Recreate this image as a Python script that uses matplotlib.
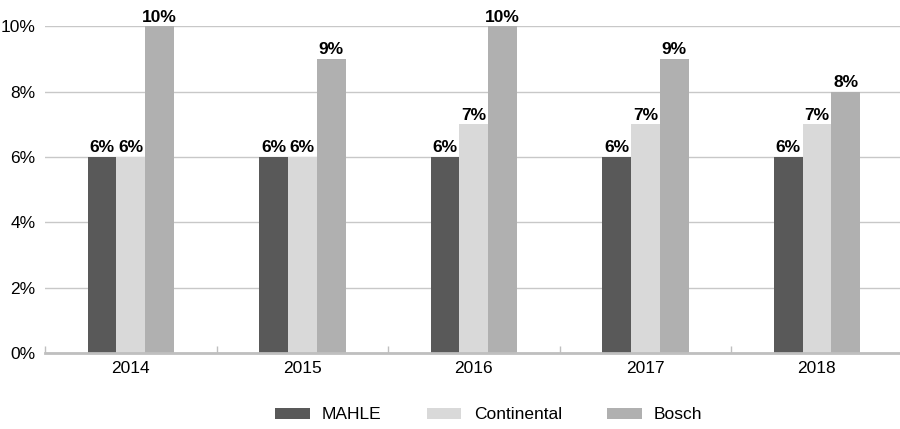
import matplotlib
matplotlib.use("Agg")
import matplotlib.pyplot as plt
from matplotlib.patches import Patch
import numpy as np

plt.rcParams['font.family'] = ['Liberation Sans', 'DejaVu Sans']

years = ["2014", "2015", "2016", "2017", "2018"]
series = ["MAHLE", "Continental", "Bosch"]
mahle = [6, 6, 6, 6, 6]
continental = [6, 6, 7, 7, 7]
bosch = [10, 9, 10, 9, 8]
colors = ["#595959", "#d9d9d9", "#b0b0b0"]
values = [mahle, continental, bosch]

fig = plt.figure(figsize=(9, 4.29), dpi=100)
ax = fig.add_axes([0.05, 0.177, 0.953, 0.762])

x = np.arange(len(years))
w = 0.168
for i, (vals, c) in enumerate(zip(values, colors)):
    pos = x + (i - 1) * w
    ax.bar(pos, vals, width=w, color=c, zorder=3, label=series[i])
    for p, v in zip(pos, vals):
        ax.text(p, v + 0.05, f"{v}%", ha="center", va="bottom",
                fontsize=12.5, fontweight="bold", color="#000000", zorder=4)

ax.set_xlim(-0.5, len(years) - 0.5)
ax.set_ylim(0, 10)
ax.set_yticks(np.arange(0, 11, 2))
ax.set_yticklabels([f"{v}%" for v in range(0, 11, 2)], fontsize=12.5)
ax.set_xticks(x)
ax.set_xticklabels(years, fontsize=12.5)
ax.tick_params(axis="x", length=0, pad=6)
ax.tick_params(axis="y", length=0, pad=7)
ax.set_xticks(np.arange(-0.5, len(years), 1), minor=True)
ax.tick_params(axis="x", which="minor", direction="in", length=5, color="#bfbfbf", width=1)

ax.yaxis.grid(True, color="#c8c8c8", linewidth=1, zorder=0)
for side in ["top", "right", "left"]:
    ax.spines[side].set_visible(False)
ax.spines["bottom"].set_color("#bfbfbf")
ax.spines["bottom"].set_linewidth(2)
ax.spines["bottom"].set_zorder(5)

handles = [Patch(facecolor=c, edgecolor="none") for c in colors]
fig.legend(handles, series, loc="center", bbox_to_anchor=(0.543, 0.033), ncol=3,
           frameon=False, fontsize=12.5, handlelength=2.0, handleheight=0.6,
           handletextpad=0.7, columnspacing=2.6)

fig.savefig("out.png", dpi=100)
